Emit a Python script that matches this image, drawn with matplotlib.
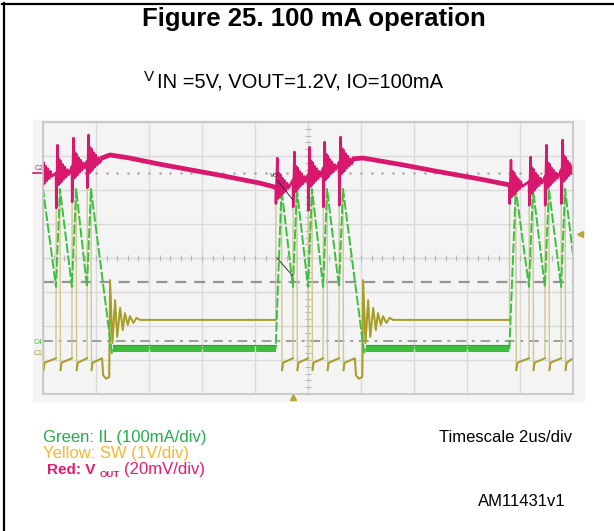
import matplotlib
matplotlib.use("Agg")
import matplotlib.pyplot as plt
from matplotlib.patches import Rectangle
import numpy as np

plt.rcParams['font.family'] = ['Liberation Sans', 'DejaVu Sans']

# scope screen: 2 us/div over 10 div, levels in screen divisions (0 = centre line)
# each burst: SW switches high at sw_on, IL peaks at sw_off
sw_on = [[-0.15, 0.49, 1.09, 1.66],
         [8.78, 9.43, 10.00, 10.57, 11.17],
         [17.60, 18.34, 18.94, 19.55]]
sw_off = [[0.00, 0.64, 1.25, 1.81],
          [9.00, 9.58, 10.15, 10.72, 11.32],
          [17.84, 18.49, 19.09, 19.70]]

# green: inductor current
il_peak = 2.03
il_valley = -0.85
il_zero = -2.65
il_zero_t = [2.60, 12.12]
il_end = 0.10
il_band = [-2.77, -2.55]

# yellow: SW node
sw_high = 2.0
sw_low = [-3.08, -2.95]
sw_under = -3.3
sw_dip_t = [2.23, 11.77]
sw_dip = -3.55
sw_ring_t = [2.53, 12.08]
ring_dt = [0.00, 0.09, 0.19, 0.27, 0.38, 0.48, 0.56, 0.67, 0.75, 0.88, 1.00, 1.13]
ring_v = [-0.65, -2.50, -1.24, -2.32, -1.47, -2.12, -1.62, -1.97, -1.71, -1.91, -1.76, -1.82]
sw_idle = -1.82

# red: output voltage ripple
vout_base = [[2.45, 2.50, 2.70, 2.85],
             [2.10, 2.30, 2.45, 2.65, 2.82],
             [2.15, 2.25, 2.40, 2.60]]
vout_up = [[2.90, 3.32, 3.53, 3.62],
           [2.94, 3.12, 3.26, 3.41, 3.56],
           [2.88, 2.97, 3.32, 3.47]]
vout_down = [[1.95, 1.47, 1.65, 2.06],
             [1.60, 1.50, 1.40, 1.50, 1.55],
             [1.60, 1.55, 1.55, 1.60]]
vout_ring_dt = [0.03, 0.06, 0.09, 0.12, 0.15, 0.19, 0.23, 0.27, 0.32, 0.37, 0.42]
vout_ring_dv = [-0.35, 0.40, -0.30, 0.35, -0.25, 0.25, -0.18, 0.18, -0.12, 0.10, -0.05]
decay_t = [[2.25, 2.53, 3.20, 4.53, 6.57, 8.20, 8.78],
           [11.75, 12.08, 13.50, 14.72, 16.50, 17.60]]
decay_v = [[2.95, 3.03, 2.95, 2.74, 2.45, 2.20, 2.08],
           [2.92, 2.94, 2.75, 2.57, 2.32, 2.15]]
vout_ref = 2.5

dash_level = -0.7
dashdot_level = -2.44

GREEN = '#3dbf3d'
PINK = '#d8176d'
OLIVE = '#a89e26'
TAN = '#cfc88f'

# ---- build traces
il_t, il_v = [], []
for b in range(3):
    for k in range(len(sw_on[b])):
        il_t += [sw_on[b][k], sw_off[b][k]]
        il_v += [il_zero if (k == 0 and b > 0) else il_valley, il_peak]
    if b < 2:
        il_t += [il_zero_t[b], il_zero_t[b] + 0.1]
        il_v += [il_zero - 0.15, il_zero]
il_t.append(20.0)
il_v.append(il_end)

sw_t, sw_v = [], []
for b in range(3):
    for k in range(len(sw_on[b])):
        a, c = sw_on[b][k], sw_off[b][k]
        pre = sw_idle if (k == 0 and b > 0) else sw_low[1]
        sw_t += [a, a + 0.01, c, c + 0.02, c + 0.06]
        sw_v += [pre, sw_high, sw_high, sw_under, sw_low[0]]
    if b < 2:
        d = sw_dip_t[b]
        sw_t += [d, d + 0.04, d + 0.15, sw_ring_t[b] - 0.03]
        sw_v += [sw_low[1], sw_dip + 0.1, sw_dip, sw_dip + 0.05]
        sw_t += [sw_ring_t[b] + x for x in ring_dt]
        sw_v += ring_v
sw_t.append(20.0)
sw_v.append(sw_low[1])
sw_t = np.array(sw_t)
sw_v = np.array(sw_v)

vo_t, vo_v = [], []
for b in range(3):
    for k in range(len(sw_on[b])):
        a = sw_on[b][k]
        base = vout_base[b][k]
        vo_t += [a, a + 0.01, a + 0.06]
        vo_v += [base, vout_down[b][k], vout_up[b][k]]
        vo_t += [a + 0.06 + x for x in vout_ring_dt]
        vo_v += [base + x for x in vout_ring_dv]
    if b < 2:
        vo_t += decay_t[b]
        vo_v += decay_v[b]

# ---- figure
fig = plt.figure(figsize=(6.14, 5.31), dpi=100)
bg = fig.add_axes([0, 0, 1, 1])
bg.set_xlim(0, 614)
bg.set_ylim(531, 0)
bg.axis('off')
bg.plot([2, 614], [4, 4], color='k', lw=1.6)
bg.plot([4, 4], [3, 531], color='k', lw=1.6)
bg.add_patch(Rectangle((33, 120), 551, 281, color='#f4f4f4', zorder=0))

bg.text(314, 26, 'Figure 25. 100 mA operation', ha='center', va='baseline',
        fontsize=18.5, weight='bold')
bg.text(144, 81, 'V', fontsize=11, va='baseline')
bg.text(157, 87, 'IN =5V, VOUT=1.2V, IO=100mA', fontsize=14.5, va='baseline')

bg.text(43, 442, 'Green: IL (100mA/div)', color='#22ad4c', fontsize=12, va='baseline')
bg.text(43, 458, 'Yellow: SW (1V/div)', color='#f7b72a', fontsize=12, va='baseline')
bg.text(47, 474, 'Red: V', color='#e8196e', fontsize=11, weight='bold', va='baseline')
bg.text(100, 477, 'OUT', color='#e8196e', fontsize=6.8, weight='bold', va='baseline')
bg.text(124, 474, '(20mV/div)', color='#e8196e', fontsize=12, va='baseline')
bg.text(572, 442, 'Timescale 2us/div', ha='right', fontsize=12, va='baseline')
bg.text(566, 506, 'AM11431v1', ha='right', fontsize=12, va='baseline')

bg.text(35, 170, 'C2', color=PINK, fontsize=5)
bg.plot([33, 41], [173, 173], color=PINK, lw=1.2)
bg.text(34, 344, 'C4', color=GREEN, fontsize=5)
bg.text(34, 355, 'C1', color=OLIVE, fontsize=5)

ax = fig.add_axes([43 / 614, (531 - 394) / 531, 530 / 614, 272 / 531])
ax.set_facecolor('#f4f4f4')
ax.set_xlim(0, 20)
ax.set_ylim(-4, 4)
ax.set_xticks(np.arange(0, 21, 2))
ax.set_yticks(np.arange(-4, 5, 1))
ax.set_xticklabels([])
ax.set_yticklabels([])
ax.tick_params(length=0)
ax.grid(True, color='#dadada', lw=1)
for s in ax.spines.values():
    s.set_color('#c4c4c4')
    s.set_linewidth(1.2)

minor_x = np.arange(0, 20.01, 0.4)
minor_y = np.arange(-4, 4.01, 0.2)
ax.plot(minor_x, np.zeros_like(minor_x), ls='none', marker='|', ms=4, color='#b8b8b8', mew=0.8)
ax.plot(np.full_like(minor_y, 10), minor_y, ls='none', marker='_', ms=4, color='#b8b8b8', mew=0.8)
ax.plot(minor_x, np.full_like(minor_x, vout_ref), ls='none', marker='.', ms=1.5, color='#b99aa8')

ax.axhline(dash_level, color='#959595', lw=1.6, dashes=(5, 3.5))
ax.axhline(dashdot_level, color='#9c9c9c', lw=1.4, dashes=(5, 3, 1.5, 3))

# yellow
ax.plot(sw_t, sw_v, color=TAN, lw=1.0)
ax.plot(sw_t, np.ma.masked_where(sw_v > 1.5, sw_v), color=OLIVE, lw=1.4)

# green
ax.plot(il_t, il_v, color=GREEN, lw=1.4, dashes=(5, 1.2))
for b in range(2):
    ax.fill_between([il_zero_t[b] + 0.05, sw_on[b + 1][0]], il_band[0], il_band[1],
                    color=GREEN, lw=0)
    ax.plot([il_zero_t[b] + 0.05, sw_on[b + 1][0]], [il_band[1], il_band[1]],
            color='#2f9f2f', lw=0.8)

# pink
ax.plot(vo_t, vo_v, color=PINK, lw=1.8)
for b in range(2):
    ax.plot(decay_t[b], decay_v[b], color=PINK, lw=3.4)

# markers and cursor notes
ax.plot(20.25, 0.7, marker='<', color='#b5a832', ms=5, clip_on=False)
ax.plot(9.43, -4.1, marker='^', color='#b5a832', ms=5, clip_on=False)
ax.plot([8.83, 9.43], [2.29, 1.71], color='#333333', lw=0.7)
ax.plot([8.83, 9.43], [0.0, -0.53], color='#333333', lw=0.7)
ax.text(8.55, 2.38, 'VO', fontsize=4.5, color='#222222')

fig.savefig('out.png', dpi=100)
